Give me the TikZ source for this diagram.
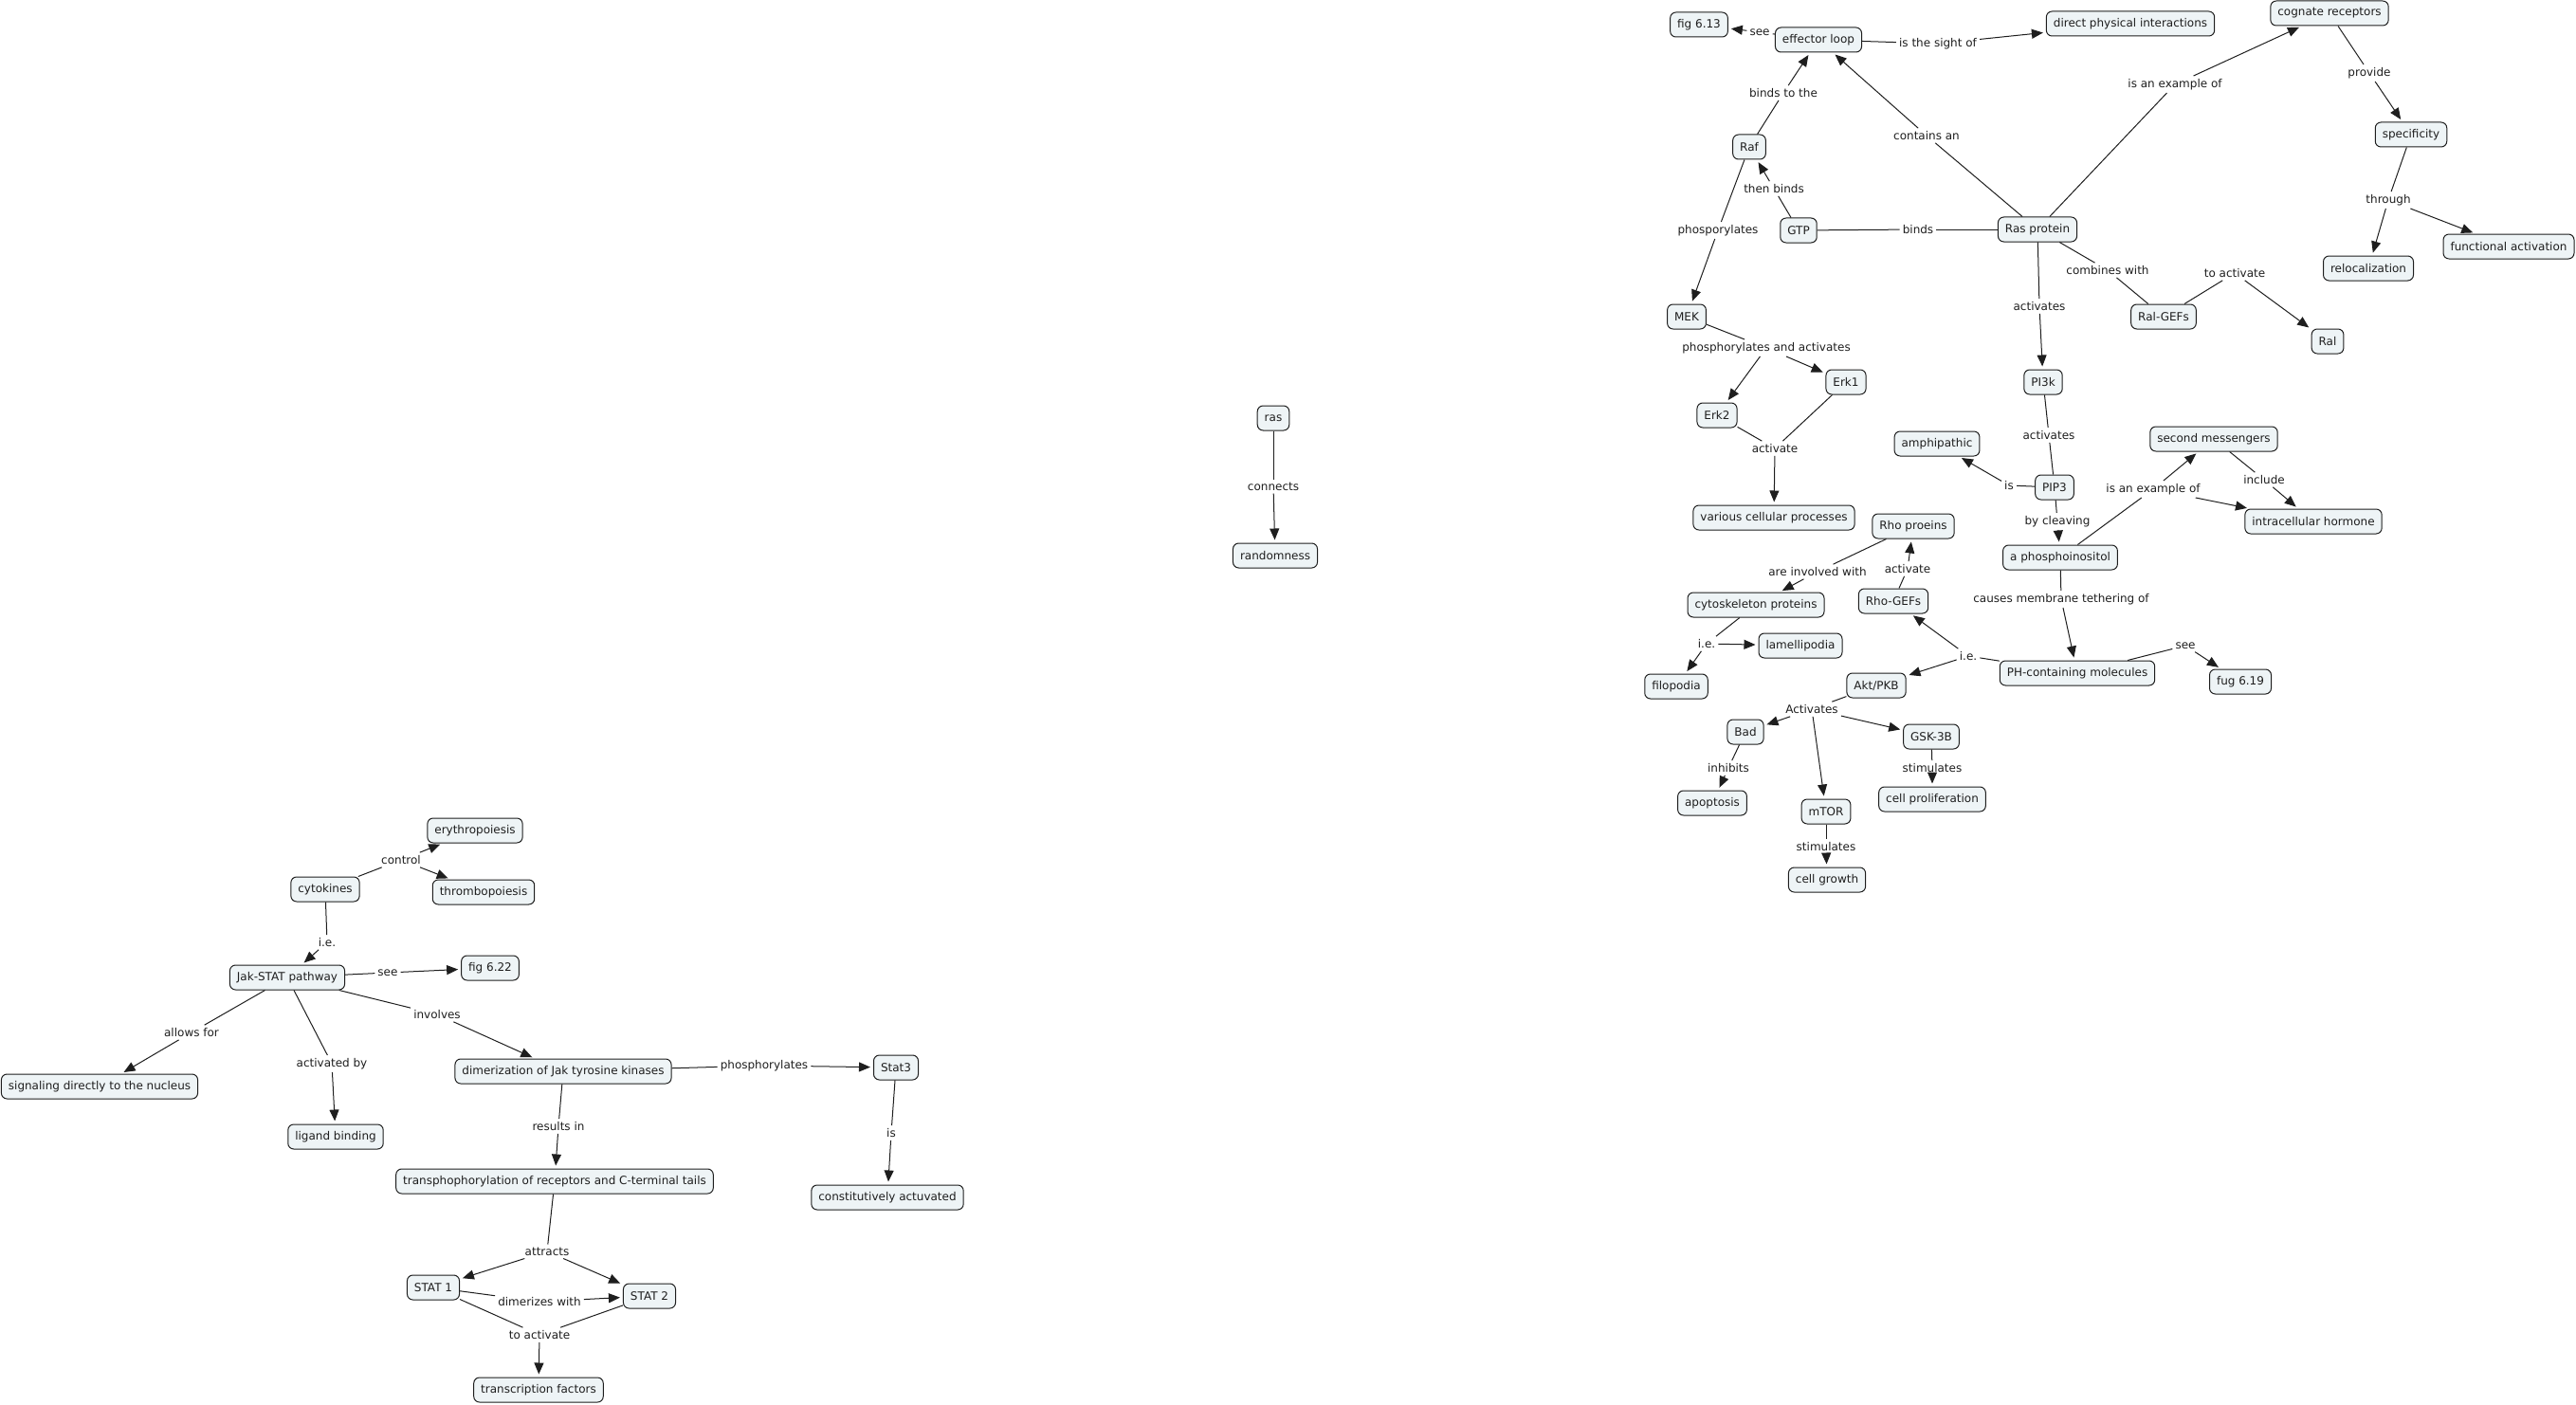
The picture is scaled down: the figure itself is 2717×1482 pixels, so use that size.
\documentclass[tikz,border=0pt]{standalone}
\usepackage{fontspec}
\setmainfont{DejaVu Sans}
\usetikzlibrary{arrows.meta}
\definecolor{boxfill}{RGB}{238,244,246}
\definecolor{ink}{RGB}{30,30,30}
\tikzset{
  concept/.style={draw=ink, fill=boxfill, rounded corners=6pt, inner xsep=7.5pt, inner ysep=0pt,
    minimum height=26pt, line width=1pt, text=ink, font=\fontsize{12}{14}\selectfont},
  lbl/.style={inner sep=3pt, text=ink, font=\fontsize{12}{14}\selectfont},
  link/.style={draw=ink, line width=1pt},
  arr/.style={draw=ink, line width=1pt, -{Triangle[length=12pt,width=10pt]}, shorten >=3pt}
}
\begin{document}
\begin{tikzpicture}[x=1pt,y=-1pt]
\useasboundingbox (0,0) rectangle (2717,1482);
% concepts - right cluster
\node[concept] (fig613) at (1792,26) {fig 6.13};
\node[concept] (eff) at (1918,42) {effector loop};
\node[concept] (dpi) at (2247,25) {direct physical interactions};
\node[concept] (cog) at (2457,14) {cognate receptors};
\node[concept] (spec) at (2543,142) {specificity};
\node[concept] (func) at (2646,260) {functional activation};
\node[concept] (reloc) at (2498,283) {relocalization};
\node[concept] (raf) at (1845,155) {Raf};
\node[concept] (gtp) at (1897,243) {GTP};
\node[concept] (ras) at (2149,242) {Ras protein};
\node[concept] (mek) at (1779,334) {MEK};
\node[concept] (ralgef) at (2282,334) {Ral-GEFs};
\node[concept] (ral) at (2455,360) {Ral};
\node[concept] (pi3k) at (2155,403) {PI3k};
\node[concept] (erk1) at (1947,403) {Erk1};
\node[concept] (erk2) at (1811,438) {Erk2};
\node[concept] (vcp) at (1871,546) {various cellular processes};
\node[concept] (amph) at (2043,468) {amphipathic};
\node[concept] (pip3) at (2167,514) {PIP3};
\node[concept] (secm) at (2335,463) {second messengers};
\node[concept] (ich) at (2440,550) {intracellular hormone};
\node[concept] (rho) at (2018,555) {Rho proeins};
\node[concept] (phos) at (2173,588) {a phosphoinositol};
\node[concept] (cyto) at (1852,638) {cytoskeleton proteins};
\node[concept] (rhogef) at (1997,634) {Rho-GEFs};
\node[concept] (lam) at (1899,681) {lamellipodia};
\node[concept] (ph) at (2191,710) {PH-containing molecules};
\node[concept] (fug) at (2363,719) {fug 6.19};
\node[concept] (filo) at (1768,724) {filopodia};
\node[concept] (akt) at (1979,723) {Akt/PKB};
\node[concept] (bad) at (1841,772) {Bad};
\node[concept] (gsk) at (2037,777) {GSK-3B};
\node[concept] (apop) at (1806,847) {apoptosis};
\node[concept] (mtor) at (1926,856) {mTOR};
\node[concept] (cellp) at (2038,843) {cell proliferation};
\node[concept] (cellg) at (1927,928) {cell growth};
% middle
\node[concept] (rasm) at (1343,441) {ras};
\node[concept] (rand) at (1345,586) {randomness};
% left cluster
\node[concept] (ery) at (501,876) {erythropoiesis};
\node[concept] (cytok) at (343,938) {cytokines};
\node[concept] (thromb) at (510,941) {thrombopoiesis};
\node[concept] (jak) at (303,1031) {Jak-STAT pathway};
\node[concept] (fig622) at (517,1021) {fig 6.22};
\node[concept] (sig) at (105,1146) {signaling directly to the nucleus};
\node[concept] (dim) at (594,1130) {dimerization of Jak tyrosine kinases};
\node[concept] (stat3) at (945,1126) {Stat3};
\node[concept] (lig) at (354,1199) {ligand binding};
\node[concept] (trans) at (585,1246) {transphophorylation of receptors and C-terminal tails};
\node[concept] (const) at (936,1263) {constitutively actuvated};
\node[concept] (stat1) at (457,1358) {STAT 1};
\node[concept] (stat2) at (685,1367) {STAT 2};
\node[concept] (tf) at (568,1466) {transcription factors};
% labels
\node[lbl] (l1) at (1856,34) {see};
\node[lbl] (l2) at (2044,46) {is the sight of};
\node[lbl] (l3) at (1881,98) {binds to the};
\node[lbl] (l4) at (2032,143) {contains an};
\node[lbl] (l5) at (2294,89) {is an example of};
\node[lbl] (l6) at (2499,77) {provide};
\node[lbl] (l7) at (2519,211) {through};
\node[lbl] (l8) at (1871,199) {then binds};
\node[lbl] (l9) at (2023,242) {binds};
\node[lbl] (l10) at (1812,243) {phosporylates};
\node[lbl] (l11) at (2223,285) {combines with};
\node[lbl] (l12) at (2357,288) {to activate};
\node[lbl] (l13) at (2151,323) {activates};
\node[lbl] (l14) at (1863,367) {phosphorylates and activates};
\node[lbl] (l15) at (1872,473) {activate};
\node[lbl] (l16) at (2161,459) {activates};
\node[lbl] (l17) at (2119,512) {is};
\node[lbl] (l18) at (2170,550) {by cleaving};
\node[lbl] (l19) at (2271,516) {is an example of};
\node[lbl] (l20) at (2388,506) {include};
\node[lbl] (l21) at (1917,603) {are involved with};
\node[lbl] (l22) at (2012,600) {activate};
\node[lbl] (l23) at (2174,632) {causes membrane tethering of};
\node[lbl] (l24) at (1800,679) {i.e.};
\node[lbl] (l25) at (2076,692) {i.e.};
\node[lbl] (l26) at (2305,681) {see};
\node[lbl] (l27) at (1911,748) {Activates};
\node[lbl] (l28) at (1823,810) {inhibits};
\node[lbl] (l29) at (2038,810) {stimulates};
\node[lbl] (l30) at (1926,893) {stimulates};
\node[lbl] (l31) at (1343,513) {connects};
\node[lbl] (l32) at (423,907) {control};
\node[lbl] (l33) at (345,994) {i.e.};
\node[lbl] (l34) at (409,1026) {see};
\node[lbl] (l35) at (202,1089) {allows for};
\node[lbl] (l36) at (350,1122) {activated by};
\node[lbl] (l37) at (461,1070) {involves};
\node[lbl] (l38) at (806,1124) {phosphorylates};
\node[lbl] (l39) at (589,1188) {results in};
\node[lbl] (l40) at (940,1195) {is};
\node[lbl] (l41) at (577,1320) {attracts};
\node[lbl] (l42) at (569,1373) {dimerizes with};
\node[lbl] (l43) at (569,1408) {to activate};
% connectors
\draw[link] (eff) -- (l1); \draw[arr] (l1) -- (fig613);
\draw[link] (eff) -- (l2); \draw[arr] (l2) -- (dpi);
\draw[link] (raf) -- (l3); \draw[arr] (l3) -- (eff);
\draw[link] (ras) -- (l4); \draw[arr] (l4) -- (eff);
\draw[link] (ras) -- (l5); \draw[arr] (l5) -- (cog);
\draw[link] (cog) -- (l6); \draw[arr] (l6) -- (spec);
\draw[link] (spec) -- (l7); \draw[arr] (l7) -- (reloc); \draw[arr] (l7) -- (func);
\draw[link] (gtp) -- (l8); \draw[arr] (l8) -- (raf);
\draw[link] (gtp) -- (l9); \draw[link] (l9) -- (ras);
\draw[link] (raf) -- (l10); \draw[arr] (l10) -- (mek);
\draw[link] (ras) -- (l11); \draw[link] (l11) -- (ralgef);
\draw[link] (ralgef) -- (l12); \draw[arr] (l12) -- (ral);
\draw[link] (ras) -- (l13); \draw[arr] (l13) -- (pi3k);
\draw[link] (mek) -- (l14); \draw[arr] (l14) -- (erk2); \draw[arr] (l14) -- (erk1);
\draw[link] (erk2) -- (l15); \draw[link] (erk1) -- (l15); \draw[arr] (l15) -- (vcp);
\draw[link] (pi3k) -- (l16); \draw[link] (l16) -- (pip3);
\draw[link] (pip3) -- (l17); \draw[arr] (l17) -- (amph);
\draw[link] (pip3) -- (l18); \draw[arr] (l18) -- (phos);
\draw[link] (phos) -- (l19); \draw[arr] (l19) -- (secm); \draw[arr] (l19) -- (ich);
\draw[link] (secm) -- (l20); \draw[arr] (l20) -- (ich);
\draw[link] (rho) -- (l21); \draw[arr] (l21) -- (cyto);
\draw[link] (rhogef) -- (l22); \draw[arr] (l22) -- (rho);
\draw[link] (phos) -- (l23); \draw[arr] (l23) -- (ph);
\draw[link] (cyto) -- (l24); \draw[arr] (l24) -- (lam); \draw[arr] (l24) -- (filo);
\draw[link] (ph) -- (l25); \draw[arr] (l25) -- (rhogef); \draw[arr] (l25) -- (akt);
\draw[link] (ph) -- (l26); \draw[arr] (l26) -- (fug);
\draw[link] (akt) -- (l27); \draw[arr] (l27) -- (bad); \draw[arr] (l27) -- (mtor); \draw[arr] (l27) -- (gsk);
\draw[link] (bad) -- (l28); \draw[arr] (l28) -- (apop);
\draw[link] (gsk) -- (l29); \draw[arr] (l29) -- (cellp);
\draw[link] (mtor) -- (l30); \draw[arr] (l30) -- (cellg);
\draw[link] (rasm) -- (l31); \draw[arr] (l31) -- (rand);
\draw[link] (cytok) -- (l32); \draw[arr] (l32) -- (ery); \draw[arr] (l32) -- (thromb);
\draw[link] (cytok) -- (l33); \draw[arr] (l33) -- (jak);
\draw[link] (jak) -- (l34); \draw[arr] (l34) -- (fig622);
\draw[link] (jak) -- (l35); \draw[arr] (l35) -- (sig);
\draw[link] (jak) -- (l36); \draw[arr] (l36) -- (lig);
\draw[link] (jak) -- (l37); \draw[arr] (l37) -- (dim);
\draw[link] (dim) -- (l38); \draw[arr] (l38) -- (stat3);
\draw[link] (dim) -- (l39); \draw[arr] (l39) -- (trans);
\draw[link] (stat3) -- (l40); \draw[arr] (l40) -- (const);
\draw[link] (trans) -- (l41); \draw[arr] (l41) -- (stat1); \draw[arr] (l41) -- (stat2);
\draw[link] (stat1) -- (l42); \draw[arr] (l42) -- (stat2);
\draw[link] (stat1) -- (l43); \draw[link] (stat2) -- (l43); \draw[arr] (l43) -- (tf);
\end{tikzpicture}
\end{document}
